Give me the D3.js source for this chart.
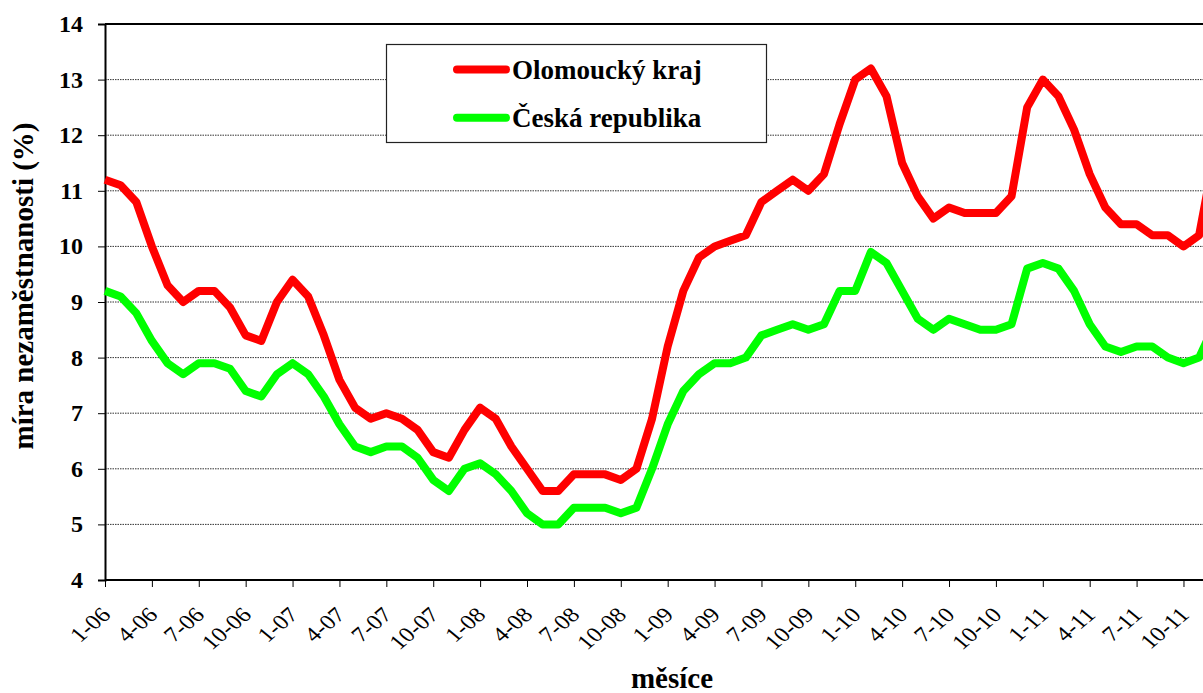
<!DOCTYPE html>
<html><head><meta charset="utf-8">
<script src="https://cdn.jsdelivr.net/npm/d3@7"></script>
<style>body{margin:0;background:#fff}svg{display:block}</style>
</head><body>
<svg id="c" width="1203" height="693" viewBox="0 0 1203 693"></svg>
<script>
const months = [];
const years = ["06","07","08","09","10","11"];
years.forEach(y => { for (let m = 1; m <= 12; m++) months.push(m + "-" + y); });
const yTicks = [4,5,6,7,8,9,10,11,12,13,14];
const olomoucky = [11.2,11.1,10.8,10.0,9.3,9.0,9.2,9.2,8.9,8.4,8.3,9.0,
  9.4,9.1,8.4,7.6,7.1,6.9,7.0,6.9,6.7,6.3,6.2,6.7,
  7.1,6.9,6.4,6.0,5.6,5.6,5.9,5.9,5.9,5.8,6.0,6.9,
  8.2,9.2,9.8,10.0,10.1,10.2,10.8,11.0,11.2,11.0,11.3,12.2,
  13.0,13.2,12.7,11.5,10.9,10.5,10.7,10.6,10.6,10.6,10.9,12.5,
  13.0,12.7,12.1,11.3,10.7,10.4,10.4,10.2,10.2,10.0,10.2,11.7];
const cesko = [9.2,9.1,8.8,8.3,7.9,7.7,7.9,7.9,7.8,7.4,7.3,7.7,
  7.9,7.7,7.3,6.8,6.4,6.3,6.4,6.4,6.2,5.8,5.6,6.0,
  6.1,5.9,5.6,5.2,5.0,5.0,5.3,5.3,5.3,5.2,5.3,6.0,
  6.8,7.4,7.7,7.9,7.9,8.0,8.4,8.5,8.6,8.5,8.6,9.2,
  9.2,9.9,9.7,9.2,8.7,8.5,8.7,8.6,8.5,8.5,8.6,9.6,
  9.7,9.6,9.2,8.6,8.2,8.1,8.2,8.2,8.0,7.9,8.0,8.6];
const seriesNames = ["Olomoucký kraj", "Česká republika"];
const seriesColors = ["#ff0000", "#00ff00"];

const svg = d3.select("#c");
const serif = "Liberation Serif, Times New Roman, serif";
const x0 = 105, step = 15.63;
const x = d3.scaleLinear().domain([0, months.length - 1]).range([x0, x0 + step * (months.length - 1)]);
const y = d3.scaleLinear().domain([4, 14]).range([580, 24]);

// gridlines
svg.append("g").selectAll("line").data(yTicks.filter(v => v > 4 && v < 14)).join("line")
  .attr("x1", x0).attr("x2", 1203).attr("y1", d => y(d)).attr("y2", d => y(d))
  .attr("stroke", "#333").attr("stroke-width", 1).attr("stroke-dasharray", "1.5,1");

// top border
svg.append("line").attr("x1", x0).attr("x2", 1203).attr("y1", y(14)).attr("y2", y(14))
  .attr("stroke", "#000").attr("stroke-width", 2);

// y axis
const yAxis = d3.axisLeft(y).tickValues(yTicks).tickSize(7).tickFormat(d3.format("d"));
const gy = svg.append("g").attr("transform", `translate(${x0},0)`).call(yAxis);
gy.select(".domain").attr("stroke", "#000").attr("stroke-width", 2);
gy.selectAll(".tick line").attr("stroke", "#000");
gy.selectAll(".tick text").remove();
svg.append("g").selectAll("text").data(yTicks).join("text")
  .attr("x", 83).attr("y", d => y(d) + 8).attr("text-anchor", "end")
  .style("font", `bold 24px ${serif}`).attr("fill", "#000").text(d => d);

// x axis
const xIdx = d3.range(0, months.length, 3);
const xAxis = d3.axisBottom(x).tickValues(xIdx).tickSize(7).tickFormat(() => "");
const gx = svg.append("g").attr("transform", `translate(0,${y(4)})`).call(xAxis);
gx.select(".domain").attr("stroke", "#000").attr("stroke-width", 2).attr("d", `M${x0},0H1203`);
gx.selectAll(".tick line").attr("stroke", "#000");
svg.append("g").selectAll("text").data(xIdx).join("text")
  .attr("text-anchor", "end")
  .attr("transform", i => `translate(${x(i) + 7},${y(4) + 36}) scale(1.18,1) rotate(-45)`)
  .style("font", `21px ${serif}`).attr("fill", "#000")
  .text(i => months[i]);

// lines
const line = d3.line().x((d, i) => x(i)).y(d => y(d));
[cesko, olomoucky].forEach((s) => {
  const k = s === olomoucky ? 0 : 1;
  svg.append("path").datum(s).attr("d", line).attr("fill", "none")
    .attr("stroke", seriesColors[k]).attr("stroke-width", 8)
    .attr("stroke-linejoin", "round");
});

// legend
const lg = svg.append("g");
lg.append("rect").attr("x", 386.5).attr("y", 44.5).attr("width", 380).attr("height", 98)
  .attr("fill", "#fff").attr("stroke", "#222").attr("stroke-width", 1.2);
seriesNames.forEach((n, k) => {
  const yy = 69.5 + k * 48.3;
  lg.append("line").attr("x1", 457).attr("x2", 506).attr("y1", yy).attr("y2", yy)
    .attr("stroke", seriesColors[k]).attr("stroke-width", 8).attr("stroke-linecap", "round");
  lg.append("text").attr("x", 512).attr("y", yy + 9).text(n)
    .style("font", `bold 27px ${serif}`);
});

// axis titles
svg.append("text").attr("transform", "translate(33,286) rotate(-90)").attr("text-anchor", "middle")
  .text("míra nezaměstnanosti (%)").style("font", `bold 29px ${serif}`);
svg.append("text").attr("x", 672).attr("y", 688).attr("text-anchor", "middle").text("měsíce")
  .style("font", `bold 29px ${serif}`);
</script>
</body></html>
